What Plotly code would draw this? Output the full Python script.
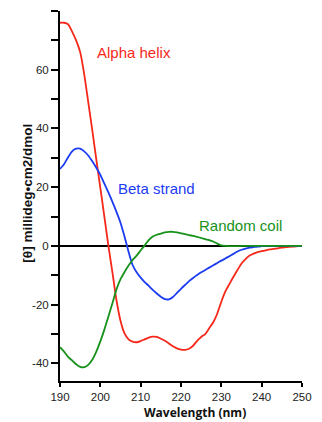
import plotly.graph_objects as go

wavelength = list(range(190, 251))

alpha_helix = [76, 76, 75.5, 73, 70, 66, 58.5, 49, 39.4, 29.5,
               19.8, 10, 0, -9, -18.5, -25.5, -29.8, -31.8, -32.6, -32.8,
               -32.4, -31.8, -31.2, -30.9, -31, -31.6, -32.3, -33.2, -34.2, -34.9,
               -35.3, -35.4, -35, -34, -32.3, -31, -30, -28, -26, -23,
               -19, -15.5, -13, -10.5, -8.2, -6, -4.5, -3.3, -2.6, -2.1,
               -1.8, -1.5, -1.2, -1, -0.8, -0.6, -0.4, -0.3, -0.2, -0.1, 0]

beta_strand = [26.2, 27.8, 30.2, 32.2, 33.1, 33.1, 32.2, 30.8, 28.8, 26.6,
               24.2, 21.2, 18.2, 15, 11.6, 7.9, 3.2, -2, -6.5, -9,
               -10.8, -12.3, -13.6, -15, -16.2, -17.3, -18.1, -18.2, -17.4, -16,
               -14.6, -13.3, -12, -10.9, -9.9, -9, -8.2, -7.4, -6.6, -5.8,
               -5, -4.3, -3.5, -2.7, -1.9, -1.3, -0.9, -0.6, -0.4, -0.2,
               -0.1, 0, 0, 0, 0, 0, 0, 0, 0, 0, 0]

random_coil = [-34.5, -36, -37.8, -39, -40.3, -41.2, -41.3, -40.5, -38.8, -36,
               -32.5, -28.5, -24, -19.5, -14.8, -11.3, -8.9, -6.7, -4.8, -3.3,
               -1.5, 0.2, 2, 3.2, 3.8, 4.2, 4.6, 4.8, 4.8, 4.6,
               4.3, 4, 3.7, 3.4, 3.1, 2.7, 2.3, 2, 1.5, 0.8,
               0.2, 0, -0.1, -0.1, -0.1, 0, 0, 0, 0, 0,
               0, 0, 0, 0, 0, 0, 0, 0, 0, 0, 0]

series_names = ["Alpha helix", "Beta strand", "Random coil"]
series_colors = ["#f5281a", "#1c3cf2", "#17921a"]
label_pos = [(198.8, 66), (203.9, 19.7), (223.9, 6.9)]

x_ticks = [190, 200, 210, 220, 230, 240, 250]
y_ticks = [-40, -30, -20, -10, 0, 10, 20, 30, 40, 50, 60, 70, 80]
y_ticktext = ["-40", "", "-20", "", "0", "", "20", "", "40", "", "60", "", ""]

fig = go.Figure()
for name, ys, col in zip(series_names, [alpha_helix, beta_strand, random_coil], series_colors):
    fig.add_trace(go.Scatter(x=wavelength, y=ys, mode="lines", name=name,
                             line=dict(color=col, width=1.8, shape="spline", smoothing=0.6),
                             showlegend=False, hoverinfo="skip"))

annotations = []
for name, col, (ax, ay) in zip(series_names, series_colors, label_pos):
    annotations.append(dict(x=ax, y=ay, xref="x", yref="y", text=name, showarrow=False,
                            xanchor="left", yanchor="middle",
                            font=dict(family="Liberation Sans, Arial", size=15, color=col)))

annotations.append(dict(x=0.556, y=-0.0855, xref="paper", yref="paper",
                        text="<b>Wavelength (nm)</b>", showarrow=False,
                        xanchor="center", yanchor="middle",
                        font=dict(family="Open Sans", size=12, color="#111")))
annotations.append(dict(x=-0.138, y=0.508, xref="paper", yref="paper",
                        text="<b>[θ] millideg•cm2/dmol</b>", showarrow=False, textangle=-90,
                        xanchor="center", yanchor="middle",
                        font=dict(family="Liberation Sans, Arial", size=13.5, color="#111")))

fig.update_layout(
    width=322, height=422,
    margin=dict(l=60, r=10, t=11, b=41),
    paper_bgcolor="white", plot_bgcolor="white",
    annotations=annotations,
    xaxis=dict(range=[190, 250], tickvals=x_ticks, ticks="outside", ticklen=4,
               tickwidth=1.5, tickcolor="black", showline=True, linecolor="black",
               linewidth=2, showgrid=False, zeroline=False,
               tickfont=dict(family="Liberation Sans, Arial", size=11.5, color="#222")),
    yaxis=dict(range=[-46, 80], tickvals=y_ticks, ticktext=y_ticktext, ticks="outside",
               ticklen=7, tickwidth=1.5, tickcolor="black", showline=True,
               linecolor="black", linewidth=2, showgrid=False,
               zeroline=True, zerolinecolor="black", zerolinewidth=1.5,
               tickfont=dict(family="Liberation Sans, Arial", size=11.5, color="#222")),
)

fig.write_html("out.html", config={"displayModeBar": False},
               post_script="document.body.style.margin='0px';document.body.style.overflow='hidden';")
